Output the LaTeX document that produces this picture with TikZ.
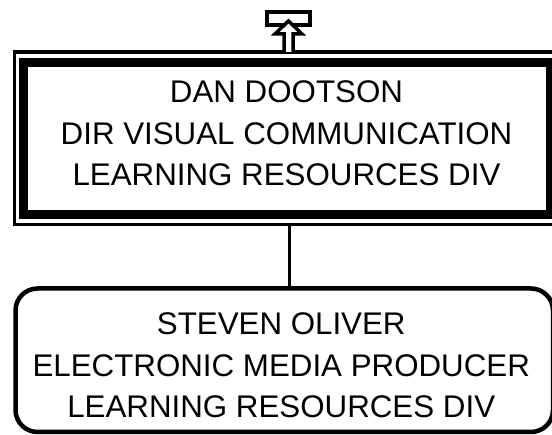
\documentclass[tikz,border=0pt]{standalone}
\usepackage{fontspec}
\setmainfont{Liberation Sans}
\usetikzlibrary{positioning,calc}

\begin{document}
\begin{tikzpicture}[
  x=1pt, y=1pt,
  every node/.style={font=\fontsize{31.3}{41.5}\selectfont, align=center, inner sep=0pt},
  headbox/.style={draw, line width=9pt, minimum width=527pt, minimum height=152pt},
  headframe/.style={draw, line width=3.5pt, minimum width=542.5pt, minimum height=172.5pt},
  staffbox/.style={draw, line width=4.5pt, rounded corners=22pt, minimum width=537.5pt, minimum height=143.5pt},
  link/.style={draw, line width=3pt}
]
\useasboundingbox (0,0) rectangle (552,435);
\node[headframe] (danframe) at (285.75,296.75) {};
\node[headbox] (dan) at (286.5,296) {};
\node (danlabel) at ([yshift=5.5]dan.center) {DAN DOOTSON\\DIR VISUAL COMMUNICATION\\LEARNING RESOURCES DIV};
\node[staffbox] (oliver) at (284.25,74.75) {};
\node (oliverlabel) at ([xshift=-3,yshift=-5.25]oliver.center) {STEVEN OLIVER\\ELECTRONIC MEDIA PRODUCER\\LEARNING RESOURCES DIV};
\coordinate (axis) at (289.5,0);
\draw[link] (danframe.south -| axis) -- (oliver.north -| axis);
\draw[line width=4pt] (267,423) rectangle (310,410);
\draw[line width=3.5pt, fill=white] (284,383) -- (284,401) -- (275,401) -- (288.5,414)
  -- (302,401) -- (293,401) -- (293,383);
\end{tikzpicture}
\end{document}
